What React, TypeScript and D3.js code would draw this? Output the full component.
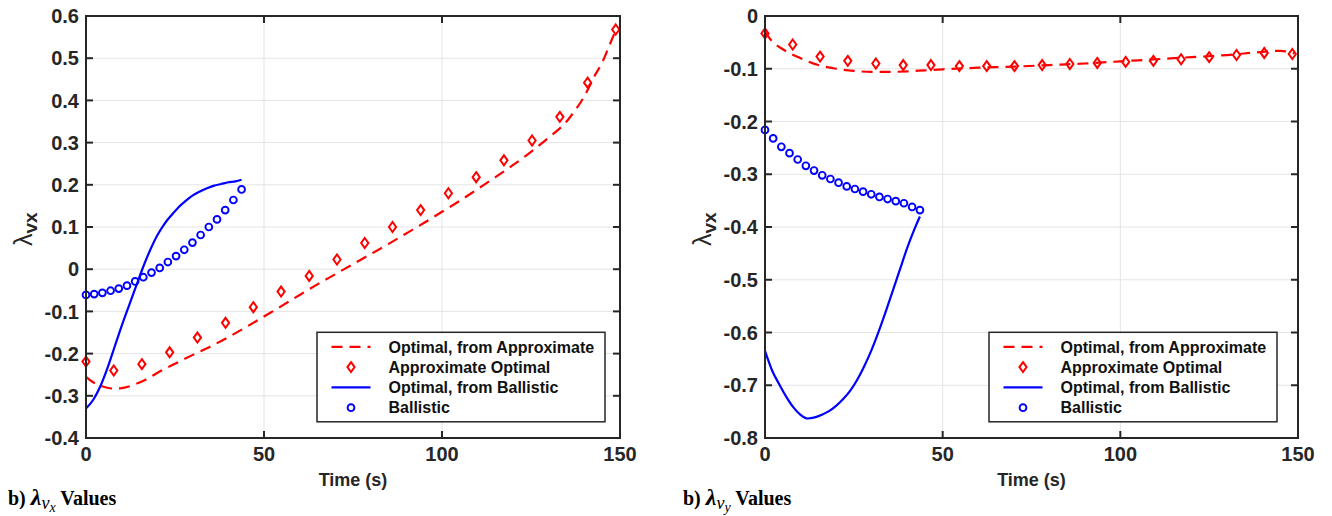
import React from 'react';
import * as d3 from 'd3';

// ---------- data ----------
const xTicks = [0, 50, 100, 150];
const yTicksVx = [-0.4, -0.3, -0.2, -0.1, 0, 0.1, 0.2, 0.3, 0.4, 0.5, 0.6];
const yTicksVy = [-0.8, -0.7, -0.6, -0.5, -0.4, -0.3, -0.2, -0.1, 0];

const legendLabels = ['Optimal, from Approximate', 'Approximate Optimal', 'Optimal, from Ballistic', 'Ballistic'];

// Left panel (lambda_vx)
const vxOptApproxT = [0, 2, 4, 6, 8, 10, 12, 14, 16, 18, 20, 25, 30, 35, 40, 45, 50, 55, 60, 65, 70, 75, 80, 85, 90, 95, 100, 105, 110, 115, 120, 125, 130, 135, 137, 140, 143, 145, 147, 149];
const vxOptApproxV = [-0.255, -0.268, -0.276, -0.281, -0.283, -0.282, -0.278, -0.272, -0.265, -0.256, -0.246, -0.224, -0.203, -0.183, -0.161, -0.137, -0.112, -0.087, -0.061, -0.036, -0.012, 0.012, 0.036, 0.06, 0.085, 0.11, 0.136, 0.162, 0.19, 0.218, 0.247, 0.278, 0.312, 0.35, 0.372, 0.41, 0.46, 0.49, 0.53, 0.57];
const vxApproxT = [0, 7.8, 15.7, 23.5, 31.3, 39.2, 47, 54.8, 62.7, 70.5, 78.3, 86.1, 94, 101.8, 109.6, 117.4, 125.3, 133.1, 140.9, 148.8];
const vxApproxV = [-0.219, -0.24, -0.225, -0.197, -0.162, -0.127, -0.09, -0.053, -0.016, 0.023, 0.062, 0.1, 0.14, 0.18, 0.218, 0.258, 0.305, 0.361, 0.442, 0.568];
const vxOptBallT = [0, 2, 4, 6, 8, 10, 12, 14, 16, 18, 20, 22, 24, 26, 28, 30, 32, 34, 36, 38, 40, 42, 43.7];
const vxOptBallV = [-0.33, -0.31, -0.278, -0.235, -0.185, -0.135, -0.088, -0.042, 0.004, 0.045, 0.08, 0.107, 0.128, 0.147, 0.162, 0.175, 0.184, 0.192, 0.198, 0.202, 0.206, 0.208, 0.212];
const vxBallT = [0, 2.3, 4.6, 6.9, 9.2, 11.5, 13.8, 16.1, 18.4, 20.7, 23, 25.3, 27.6, 29.9, 32.2, 34.5, 36.8, 39.1, 41.4, 43.7];
const vxBallV = [-0.061, -0.059, -0.056, -0.051, -0.046, -0.039, -0.029, -0.019, -0.008, 0.003, 0.017, 0.031, 0.046, 0.063, 0.081, 0.1, 0.118, 0.14, 0.164, 0.189];

// Right panel (lambda_vy)
const vyOptApproxT = [0, 2, 5, 10, 15, 20, 25, 30, 35, 40, 45, 50, 60, 70, 80, 90, 100, 110, 120, 130, 140, 145, 149];
const vyOptApproxV = [-0.03, -0.048, -0.063, -0.08, -0.093, -0.1, -0.104, -0.106, -0.106, -0.105, -0.103, -0.101, -0.098, -0.096, -0.093, -0.09, -0.086, -0.082, -0.078, -0.074, -0.068, -0.066, -0.071];
const vyApproxT = [0, 7.8, 15.5, 23.3, 31.2, 38.9, 46.7, 54.7, 62.4, 70.2, 78, 85.8, 93.5, 101.5, 109.3, 117.1, 125, 132.7, 140.5, 148.4];
const vyApproxV = [-0.033, -0.054, -0.077, -0.085, -0.09, -0.093, -0.093, -0.095, -0.095, -0.095, -0.093, -0.091, -0.089, -0.087, -0.085, -0.082, -0.078, -0.074, -0.07, -0.072];
const vyOptBallT = [0, 2, 4, 6, 8, 10, 12, 14, 16, 18, 20, 22, 24, 26, 28, 30, 32, 34, 36, 38, 40, 42, 43.6];
const vyOptBallV = [-0.635, -0.672, -0.698, -0.722, -0.742, -0.756, -0.763, -0.761, -0.756, -0.749, -0.739, -0.726, -0.71, -0.689, -0.663, -0.633, -0.598, -0.56, -0.52, -0.48, -0.44, -0.405, -0.38];
const vyBallT = [0, 2.3, 4.6, 6.9, 9.2, 11.5, 13.8, 16.1, 18.4, 20.7, 23, 25.3, 27.6, 29.9, 32.2, 34.5, 36.8, 39.1, 41.4, 43.6];
const vyBallV = [-0.216, -0.232, -0.248, -0.26, -0.272, -0.284, -0.293, -0.302, -0.309, -0.316, -0.323, -0.328, -0.333, -0.338, -0.343, -0.347, -0.351, -0.355, -0.362, -0.368];

// ---------- styles ----------
const RED = '#ff0000';
const BLUE = '#0000ff';
const AXIS = '#262626';
const GRID = '#e4e4e4';
const SANS = '"Liberation Sans", Arial, Helvetica, sans-serif';
const SERIF = '"Liberation Serif", "Times New Roman", serif';

const diamondPath = 'M0,-5 L3.6,0 L0,5 L-3.6,0 Z';

type PanelProps = {
  x0: number; x1: number; y0: number; y1: number;
  yDomain: [number, number]; yTicks: number[];
  optApproxT: number[]; optApproxV: number[];
  approxT: number[]; approxV: number[];
  optBallT: number[]; optBallV: number[];
  ballT: number[]; ballV: number[];
  legendX: number; legendY: number;
  captionX: number; captionSub: string;
};

function fmt(v: number) {
  if (Math.abs(v) < 1e-9) return '0';
  return v.toFixed(1);
}

function Panel(p: PanelProps) {
  const x = d3.scaleLinear().domain([0, 150]).range([p.x0, p.x1]);
  const y = d3.scaleLinear().domain(p.yDomain).range([p.y1, p.y0]);
  const line = (ts: number[], vs: number[]) =>
    d3.line<number>().x((_, i) => x(ts[i])).y((v) => y(v)).curve(d3.curveMonotoneX)(vs) || '';
  const tick = 7;
  const cx = (p.x0 + p.x1) / 2;
  const cy = (p.y0 + p.y1) / 2;
  const lw = 288, lh = 89.5;
  const rowY = (i: number) => p.legendY + 14.5 + i * 20.3;
  const sx0 = p.legendX + 14.5, sx1 = p.legendX + 53.5, smid = (sx0 + sx1) / 2;
  return (
    <g>
      {/* grid */}
      {xTicks.map((t) => (
        <line key={'gx' + t} x1={x(t)} x2={x(t)} y1={p.y0} y2={p.y1} stroke={GRID} strokeWidth={1} />
      ))}
      {p.yTicks.map((t) => (
        <line key={'gy' + t} x1={p.x0} x2={p.x1} y1={y(t)} y2={y(t)} stroke={GRID} strokeWidth={1} />
      ))}
      {/* ticks */}
      {xTicks.map((t) => (
        <g key={'tx' + t}>
          <line x1={x(t)} x2={x(t)} y1={p.y1} y2={p.y1 - tick} stroke={AXIS} strokeWidth={2} />
          <line x1={x(t)} x2={x(t)} y1={p.y0} y2={p.y0 + tick} stroke={AXIS} strokeWidth={2} />
          <text x={x(t)} y={p.y1 + 23} textAnchor="middle" fontFamily={SANS} fontWeight="bold" fontSize={20} fill={AXIS}>{t}</text>
        </g>
      ))}
      {p.yTicks.map((t) => (
        <g key={'ty' + t}>
          <line x1={p.x0} x2={p.x0 + tick} y1={y(t)} y2={y(t)} stroke={AXIS} strokeWidth={2} />
          <line x1={p.x1} x2={p.x1 - tick} y1={y(t)} y2={y(t)} stroke={AXIS} strokeWidth={2} />
          <text x={p.x0 - 7} y={y(t)} dy="0.36em" textAnchor="end" fontFamily={SANS} fontWeight="bold" fontSize={20} fill={AXIS}>{fmt(t)}</text>
        </g>
      ))}
      {/* series */}
      <path d={line(p.optApproxT, p.optApproxV)} fill="none" stroke={RED} strokeWidth={2.2} strokeDasharray="11,7" />
      <path d={line(p.optBallT, p.optBallV)} fill="none" stroke={BLUE} strokeWidth={2.2} />
      {p.approxV.map((v, i) => (
        <path key={'d' + i} d={diamondPath} transform={`translate(${x(p.approxT[i])},${y(v)})`} fill="none" stroke={RED} strokeWidth={2} />
      ))}
      {p.ballV.map((v, i) => (
        <circle key={'c' + i} cx={x(p.ballT[i])} cy={y(v)} r={3.4} fill="none" stroke={BLUE} strokeWidth={1.9} />
      ))}
      {/* frame */}
      <rect x={p.x0} y={p.y0} width={p.x1 - p.x0} height={p.y1 - p.y0} fill="none" stroke={AXIS} strokeWidth={2} />
      {/* axis labels */}
      <text x={cx} y={p.y1 + 48} textAnchor="middle" fontFamily={SANS} fontWeight="bold" fontSize={18} fill={AXIS}>Time (s)</text>
      <text transform={`translate(${p.x0 - 54},${cy + 19}) rotate(-90)`} fontFamily={SANS} fill={AXIS}>
        <tspan fontSize={25}>λ</tspan>
        <tspan fontSize={19} fontWeight="bold" dy={5}>vx</tspan>
      </text>
      {/* legend */}
      <rect x={p.legendX} y={p.legendY} width={lw} height={lh} fill="#ffffff" stroke={AXIS} strokeWidth={1.5} />
      <line x1={sx0} x2={sx1} y1={rowY(0)} y2={rowY(0)} stroke={RED} strokeWidth={2.2} strokeDasharray="11,7" />
      <path d={diamondPath} transform={`translate(${smid},${rowY(1)})`} fill="none" stroke={RED} strokeWidth={2} />
      <line x1={sx0} x2={sx1} y1={rowY(2)} y2={rowY(2)} stroke={BLUE} strokeWidth={2.2} />
      <circle cx={smid} cy={rowY(3)} r={3.4} fill="none" stroke={BLUE} strokeWidth={1.9} />
      {legendLabels.map((l, i) => (
        <text key={'l' + i} x={p.legendX + 71.5} y={rowY(i)} dy="0.36em" fontFamily={SANS} fontWeight="bold" fontSize={16} fill="#111">{l}</text>
      ))}
      {/* caption */}
      <text x={p.captionX} y={505} fontFamily={SERIF} fontSize={20} fill="#000">
        <tspan fontWeight="bold">b) </tspan>
        <tspan fontStyle="italic" fontWeight="bold" fontSize={24}>λ</tspan>
        <tspan fontStyle="italic" fontSize={18} dy={4}>v</tspan>
        <tspan fontStyle="italic" fontSize={14} dy={3}>{p.captionSub}</tspan>
        <tspan fontWeight="bold" dy={-7}> Values</tspan>
      </text>
    </g>
  );
}

export default function App() {
  return (
    <svg width={1332} height={516} style={{ position: 'absolute', left: 0, top: 0, background: '#fff' }}>
      <rect x={0} y={0} width={1332} height={516} fill="#fff" />
      <Panel
        x0={86} x1={620} y0={16} y1={438}
        yDomain={[-0.4, 0.6]} yTicks={yTicksVx}
        optApproxT={vxOptApproxT} optApproxV={vxOptApproxV}
        approxT={vxApproxT} approxV={vxApproxV}
        optBallT={vxOptBallT} optBallV={vxOptBallV}
        ballT={vxBallT} ballV={vxBallV}
        legendX={317} legendY={332.3}
        captionX={8} captionSub="x"
      />
      <Panel
        x0={765} x1={1298} y0={16} y1={438}
        yDomain={[-0.8, 0]} yTicks={yTicksVy}
        optApproxT={vyOptApproxT} optApproxV={vyOptApproxV}
        approxT={vyApproxT} approxV={vyApproxV}
        optBallT={vyOptBallT} optBallV={vyOptBallV}
        ballT={vyBallT} ballV={vyBallV}
        legendX={989} legendY={332.3}
        captionX={683} captionSub="y"
      />
    </svg>
  );
}
